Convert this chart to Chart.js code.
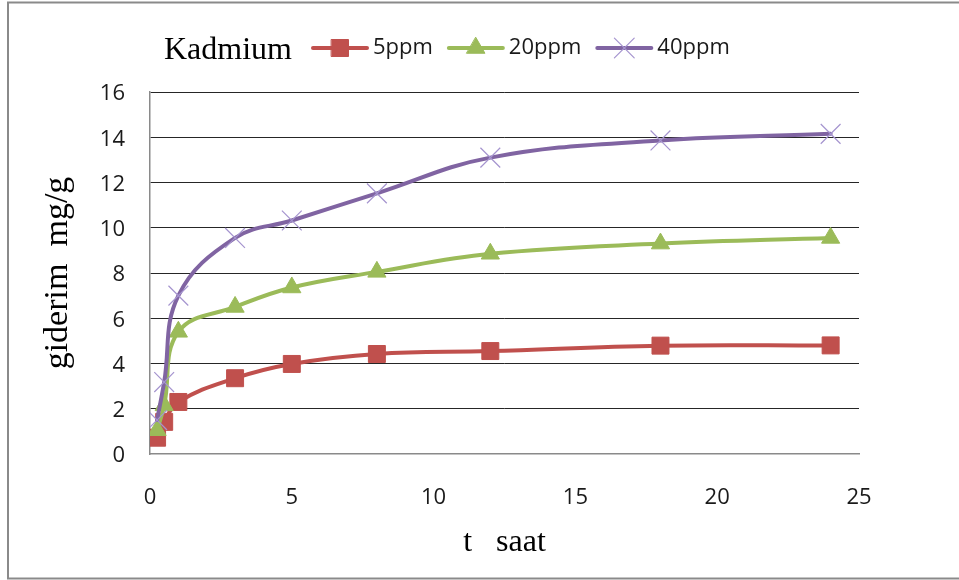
<!DOCTYPE html>
<html>
<head>
<meta charset="utf-8">
<script src="https://cdn.jsdelivr.net/npm/chart.js@4/dist/chart.umd.min.js"></script>
<style>
  html, body { margin: 0; padding: 0; background: #fff; }
  canvas { display: block; }
</style>
</head>
<body>
<canvas id="chart" width="959" height="580"></canvas>
<script>
// Cadmium uptake over time at three initial concentrations
const legendTitle = 'Kadmium';
const seriesNames = ['5ppm', '20ppm', '40ppm'];
const timeHours = [0.25, 0.5, 1, 3, 5, 8, 12, 18, 24];
const uptake5ppm = [0.72, 1.42, 2.3, 3.35, 3.98, 4.42, 4.55, 4.79, 4.8];
const uptake20ppm = [1.05, 2.15, 5.4, 6.5, 7.36, 8.05, 8.85, 9.3, 9.55];
const uptake40ppm = [1.5, 3.18, 7.0, 9.55, 10.32, 11.52, 13.1, 13.86, 14.15];
const xTitle = 't   saat';
const yTitle = 'giderim  mg/g';

const serif = '"Liberation Serif", "Times New Roman", serif';
const sans = '"Open Sans", "Noto Sans", sans-serif';

const toPoints = (ys) => ys.map((y, i) => ({ x: timeHours[i], y }));

const styles = [
  { color: '#C0504D', marker: 'rect', radius: 12, markerFill: '#C0504D', markerLine: '#C0504D', markerWidth: 1 },
  { color: '#9BBB59', marker: 'triangle', radius: 10.5, markerFill: '#9BBB59', markerLine: '#9BBB59', markerWidth: 1 },
  { color: '#8064A2', marker: 'crossRot', radius: 14, markerFill: 'rgba(0,0,0,0)', markerLine: '#A594CF', markerWidth: 1.2 }
];
const seriesValues = [uptake5ppm, uptake20ppm, uptake40ppm];

const datasets = seriesValues.map((vals, i) => ({
  label: seriesNames[i],
  data: toPoints(vals),
  borderColor: styles[i].color,
  borderWidth: 4,
  backgroundColor: styles[i].markerFill,
  pointStyle: styles[i].marker,
  pointRadius: styles[i].radius,
  pointBackgroundColor: styles[i].markerFill,
  pointBorderColor: styles[i].markerLine,
  pointBorderWidth: styles[i].markerWidth,
  tension: 0.4,
  borderCapStyle: 'round',
  borderJoinStyle: 'round',
  fill: false,
  order: 3 - i
}));

// White page with the grey frame around the whole figure
const framePlugin = {
  id: 'frame',
  beforeDraw(chart) {
    const ctx = chart.ctx;
    ctx.save();
    ctx.fillStyle = '#ffffff';
    ctx.fillRect(0, 0, chart.width, chart.height);
    ctx.strokeStyle = '#8a8a8a';
    ctx.lineWidth = 2;
    ctx.strokeRect(8, 2.5, chart.width + 20, 576);
    ctx.restore();
  }
};

// One-row legend: serif caption followed by line-and-marker samples
const rowLegendPlugin = {
  id: 'rowLegend',
  afterDraw(chart) {
    const ctx = chart.ctx;
    const cy = 48;
    ctx.save();
    ctx.fillStyle = '#000';
    ctx.font = '32px ' + serif;
    ctx.textBaseline = 'alphabetic';
    ctx.textAlign = 'left';
    ctx.fillText(legendTitle, 164, 59);

    let x = 313;
    chart.data.datasets.forEach((ds, i) => {
      const st = styles[i];
      ctx.strokeStyle = st.color;
      ctx.lineWidth = 4;
      ctx.lineCap = 'round';
      ctx.beginPath();
      ctx.moveTo(x, cy);
      ctx.lineTo(x + 54, cy);
      ctx.stroke();

      ctx.fillStyle = st.markerFill;
      ctx.strokeStyle = st.markerLine;
      ctx.lineWidth = st.markerWidth;
      Chart.helpers.drawPoint(ctx, {
        pointStyle: st.marker, radius: st.radius, rotation: 0, borderWidth: st.markerWidth
      }, x + 27, cy);

      ctx.fillStyle = '#1a1a1a';
      ctx.font = '22px ' + sans;
      ctx.textBaseline = 'middle';
      ctx.fillText(ds.label, x + 60, cy);
      x = x + 60 + ctx.measureText(ds.label).width + 16;
    });
    ctx.restore();
  }
};

new Chart(document.getElementById('chart'), {
  type: 'line',
  data: { datasets },
  plugins: [framePlugin, rowLegendPlugin],
  options: {
    responsive: false,
    animation: false,
    events: [],
    layout: { padding: { top: 92, right: 100, bottom: 0, left: 0 } },
    plugins: {
      legend: { display: false },
      title: { display: false },
      tooltip: { enabled: false }
    },
    scales: {
      x: {
        type: 'linear',
        min: 0,
        max: 25,
        ticks: {
          stepSize: 5,
          padding: 31,
          color: '#1a1a1a',
          font: { family: sans, size: 22 }
        },
        grid: { display: false, drawTicks: false },
        border: { display: true, color: '#8a8a8a', width: 1.5 },
        title: {
          display: true,
          text: xTitle,
          color: '#000',
          font: { family: serif, size: 32 },
          padding: { top: 0, bottom: 18 }
        },
        afterFit(scale) { scale.height = 126; }
      },
      y: {
        min: 0,
        max: 16,
        ticks: {
          stepSize: 2,
          padding: 25,
          labelOffset: 2,
          color: '#1a1a1a',
          font: { family: sans, size: 22 }
        },
        grid: {
          drawTicks: false,
          color: (c) => (c.tick && c.tick.value === 0 ? 'rgba(0,0,0,0)' : '#262626'),
          lineWidth: 1
        },
        border: { display: true, color: '#8a8a8a', width: 1.5 },
        title: {
          display: true,
          text: yTitle,
          color: '#000',
          font: { family: serif, size: 34 },
          padding: { top: 38, bottom: 0 }
        },
        afterFit(scale) { scale.width = 150; }
      }
    }
  }
});
</script>
</body>
</html>
